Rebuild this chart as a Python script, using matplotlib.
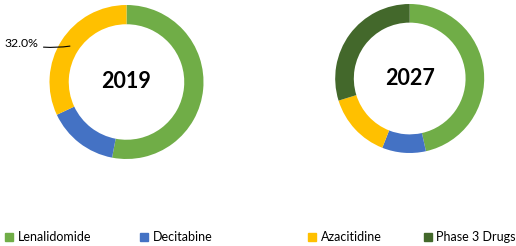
import matplotlib
matplotlib.use("Agg")
import matplotlib.pyplot as plt
from matplotlib.patches import Patch
import numpy as np

plt.rcParams['font.family'] = ['Lato', 'DejaVu Sans']

# data
drugs = ["Lenalidomide", "Decitabine", "Azacitidine", "Phase 3 Drugs"]
colors = ["#70AD47", "#4472C4", "#FFC000", "#43682B"]
share_2019 = [53.0, 15.0, 32.0, 0.0]
share_2027 = [46.5, 9.5, 14.2, 29.8]

W, H = 516, 246
fig = plt.figure(figsize=(W / 100, H / 100), dpi=100)


def donut(cx, cy, r, vals, year):
    # cx, cy, r in pixels, cy from top
    ax = fig.add_axes([(cx - r) / W, (H - cy - r) / H, 2 * r / W, 2 * r / H])
    ax.pie(vals, colors=colors, startangle=90, counterclock=False,
           radius=1, wedgeprops=dict(width=0.25, linewidth=0))
    ax.set_xlim(-1, 1)
    ax.set_ylim(-1, 1)
    ax.set_aspect("equal")
    ax.set_axis_off()
    ax.text(0, 0, year, ha="center", va="center", fontsize=15.5, fontweight="bold")
    return ax


ax1 = donut(126.5, 82, 77, share_2019, "2019")
ax2 = donut(409.7, 78.5, 74.5, share_2027, "2027")

# leader label on azacitidine slice
start = 90 - 360 * (share_2019[0] + share_2019[1]) / 100
mid = np.deg2rad(start - 360 * share_2019[2] / 200)
ax1.annotate("%.1f%%" % share_2019[2], xy=(0.87 * np.cos(mid), 0.87 * np.sin(mid)),
             xytext=(-1.15, 0.5), ha="right", va="center", fontsize=8.8,
             annotation_clip=False,
             arrowprops=dict(arrowstyle="-", color="black", lw=0.8,
                             connectionstyle="arc3,rad=0.1",
                             shrinkA=2, shrinkB=0))

# legend, one entry per spot
leg_x = [5, 140, 308, 424]
for name, col, x in zip(drugs, colors, leg_x):
    fig.legend(handles=[Patch(color=col)], labels=[name],
               loc="center left", bbox_to_anchor=(x / W, 1 - 237 / H),
               frameon=False, fontsize=9, handlelength=0.6, handleheight=0.6,
               handletextpad=0.4, borderpad=0, borderaxespad=0)

fig.savefig("out.png", dpi=100)
